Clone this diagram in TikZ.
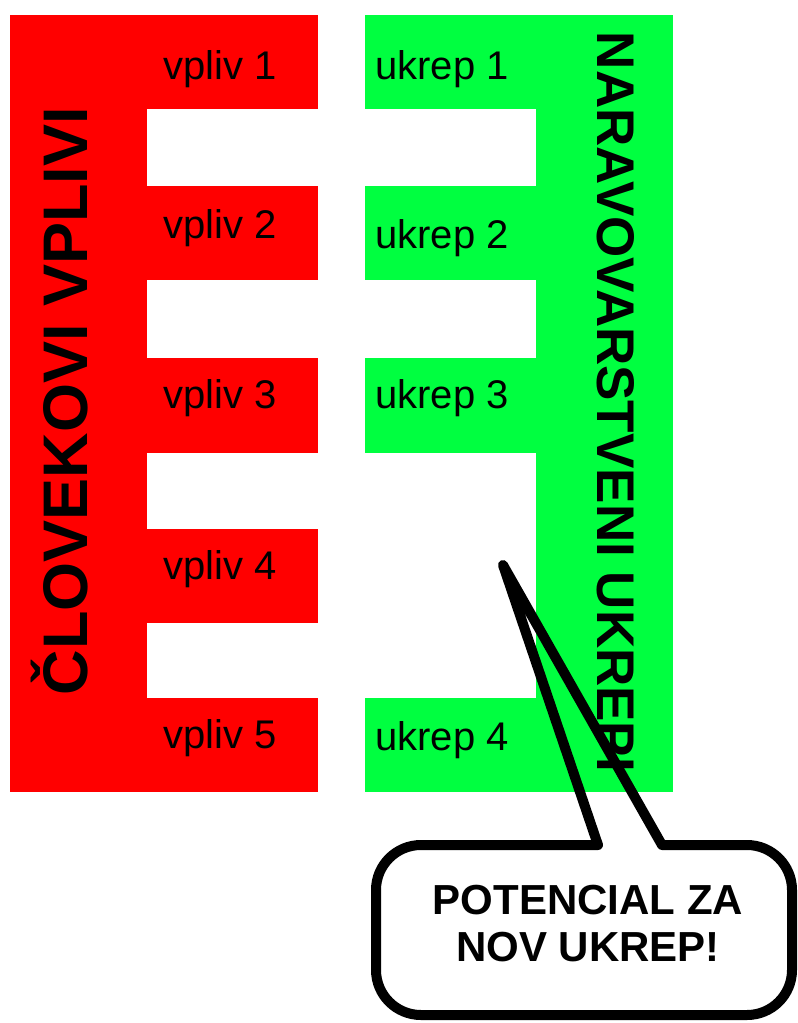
\documentclass[tikz,border=0pt]{standalone}
\usepackage{fontspec}
\setmainfont{Liberation Sans}
\definecolor{vplivred}{RGB}{255,0,0}
\definecolor{ukrepgreen}{RGB}{0,255,64}
\begin{document}
\begin{tikzpicture}[x=1pt,y=-1pt,
    lbl/.style={anchor=base west,inner sep=0pt,font=\fontsize{40}{46}\selectfont},
    big/.style={anchor=base,inner sep=0pt,font=\bfseries\fontsize{#1}{#1}\selectfont},
    callout/.style={line width=10pt,line join=round,line cap=round}]
    \useasboundingbox (0,0) rectangle (798,1023);
    % vplivi
    \fill[vplivred] (10,15) rectangle (147,792);
    \fill[vplivred] (146,15) rectangle (318,109);
    \fill[vplivred] (146,186) rectangle (318,280);
    \fill[vplivred] (146,358) rectangle (318,453);
    \fill[vplivred] (146,529) rectangle (318,623);
    \fill[vplivred] (146,698) rectangle (318,792);
    \node[lbl] (v1) at (163,79) {vpliv 1};
    \node[lbl] (v2) at (163,238) {vpliv 2};
    \node[lbl] (v3) at (163,408) {vpliv 3};
    \node[lbl] (v4) at (163,579) {vpliv 4};
    \node[lbl] (v5) at (163,748) {vpliv 5};
    \node[big=63,rotate=90] (vplivi) at (87,401) {ČLOVEKOVI VPLIVI};
    % ukrepi
    \fill[ukrepgreen] (536,15) rectangle (673,792);
    \fill[ukrepgreen] (365,15) rectangle (537,109);
    \fill[ukrepgreen] (365,186) rectangle (537,280);
    \fill[ukrepgreen] (365,358) rectangle (537,453);
    \fill[ukrepgreen] (365,698) rectangle (537,792);
    \node[lbl] (u1) at (375,79) {ukrep 1};
    \node[lbl] (u2) at (375,248) {ukrep 2};
    \node[lbl] (u3) at (375,408) {ukrep 3};
    \node[lbl] (u4) at (375,750) {ukrep 4};
    \node[big=53,rotate=-90] (ukrepi) at (597,402) {NARAVOVARSTVENI UKREPI};
    % oblacek
    \coordinate (gap) at (503,565);
    \draw[callout] (598,845) -- (gap) -- (662,845) -- (747,845)
        arc[start angle=-90,end angle=0,radius=45] -- (792,970)
        arc[start angle=0,end angle=90,radius=45] -- (421,1015)
        arc[start angle=90,end angle=180,radius=45] -- (376,890)
        arc[start angle=180,end angle=270,radius=45] -- cycle;
    \node[font=\bfseries\fontsize{42}{47}\selectfont,align=center,inner sep=0pt] (potencial) at (588,924) {POTENCIAL ZA\\NOV UKREP!};
\end{tikzpicture}
\end{document}
